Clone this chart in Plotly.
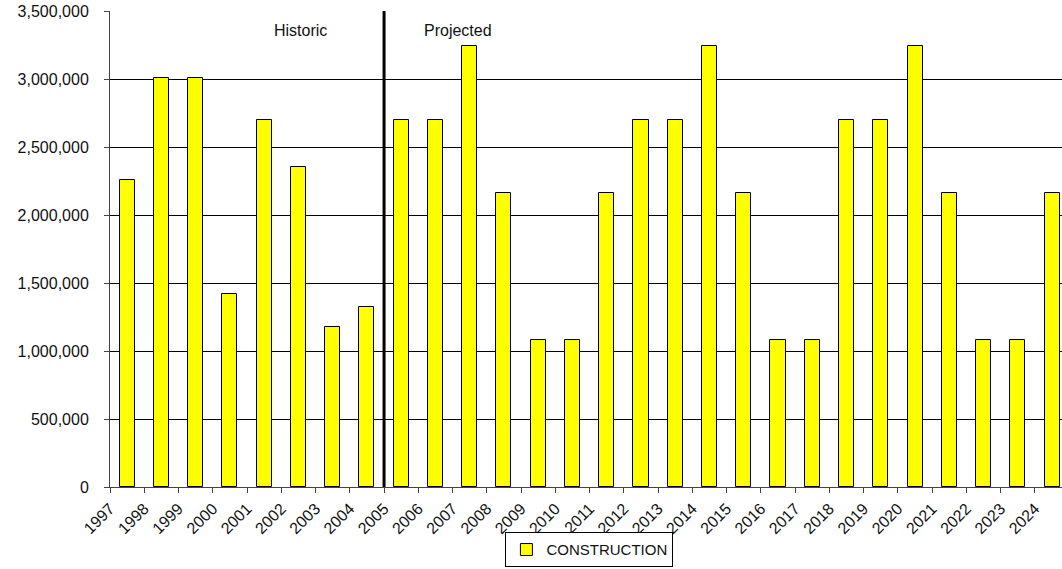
import plotly.graph_objects as go

years = [str(y) for y in range(1997, 2025)]
construction = [2260000, 3010000, 3010000, 1420000, 2700000, 2355000, 1180000, 1325000,
                2700000, 2700000, 3240000, 2160000, 1080000, 1080000, 2160000, 2700000,
                2700000, 3240000, 2160000, 1080000, 1080000, 2700000, 2700000, 3240000,
                2160000, 1080000, 1080000, 2160000]
first_projected = "2005"
y_ticks = list(range(0, 3500001, 500000))
y_tick_labels = [f"{v:,}" for v in y_ticks]

idx = list(range(len(years)))
split = years.index(first_projected) - 0.5
FONT = "Liberation Sans, Arial, sans-serif"

fig = go.Figure()
fig.add_trace(go.Bar(
    x=idx, y=construction, name="CONSTRUCTION", width=0.44,
    marker=dict(color="#FFFF00", line=dict(color="#000000", width=1)),
))

fig.add_shape(type="line", x0=split, x1=split, y0=0, y1=3500000,
              xref="x", yref="y", line=dict(color="black", width=3))

fig.add_annotation(x=5.05, y=3360000, text="Historic", showarrow=False,
                   font=dict(family=FONT, size=16, color="#111"))
fig.add_annotation(x=9.66, y=3360000, text="Projected", showarrow=False,
                   font=dict(family=FONT, size=16, color="#111"))

fig.update_layout(
    width=1062, height=569,
    margin=dict(l=110, r=0, t=11, b=82, autoexpand=False),
    paper_bgcolor="white", plot_bgcolor="white",
    font=dict(family=FONT, size=16, color="#111"),
    bargap=0,
    showlegend=True,
    legend=dict(orientation="h", xref="container", yref="container",
                x=0.555, xanchor="center", y=0.003, yanchor="bottom",
                bordercolor="black", borderwidth=1, bgcolor="white",
                font=dict(family=FONT, size=15, color="#111"),
                itemwidth=30),
    xaxis=dict(
        range=[-0.5, 27.29],
        tickmode="array",
        tickvals=[i - 0.5 for i in idx],
        ticktext=years,
        tickangle=-45,
        ticks="outside", ticklen=5, tickcolor="#444",
        showgrid=False, zeroline=False,
        showline=True, linecolor="#444", linewidth=1,
        tickfont=dict(family=FONT, size=16, color="#111"),
        automargin=False,
    ),
    yaxis=dict(
        range=[0, 3500000],
        tickmode="array", tickvals=y_ticks, ticktext=y_tick_labels,
        ticks="outside", ticklen=5, tickcolor="#444",
        ticklabelstandoff=12,
        showgrid=True, gridcolor="black", gridwidth=1,
        zeroline=False,
        showline=True, linecolor="#444", linewidth=1,
        tickfont=dict(family=FONT, size=16, color="#111"),
        automargin=False,
    ),
)

fig.write_html("out.html")
